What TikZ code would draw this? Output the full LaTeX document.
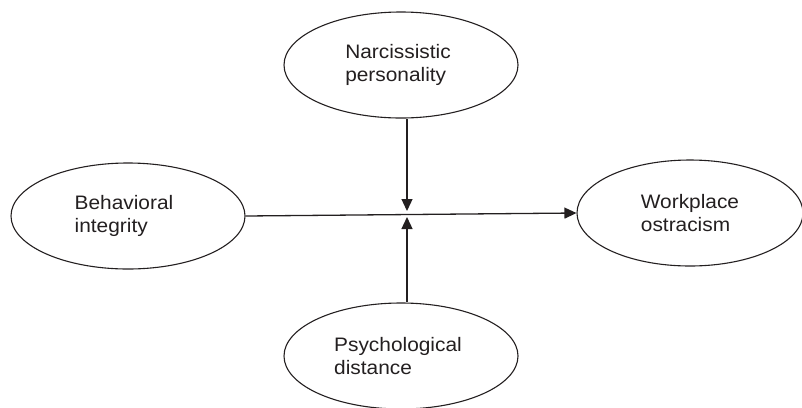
\documentclass[tikz,border=0pt]{standalone}
\usepackage{fontspec}
\setmainfont{Liberation Sans}[FakeStretch=1.07]
\usetikzlibrary{shapes.geometric,arrows.meta}
\definecolor{ink}{HTML}{231F20}
\tikzset{
  construct/.style={ellipse, draw=ink, line width=1.1bp, minimum width=234bp, minimum height=106bp,
    inner sep=0pt, align=left, text=ink, font=\fontsize{19.5bp}{23bp}\selectfont},
  path/.style={draw=ink, line width=1.3bp, -{Triangle[width=11bp,length=12bp]}}
}
\begin{document}
\begin{tikzpicture}[x=1bp,y=-1bp]
\useasboundingbox (0,0) rectangle (802,407);
\node[construct] (np) at (401,65) {Narcissistic\hspace*{6bp}\\personality};
\node[construct] (bi) at (128,216) {Behavioral\hspace*{8bp}\\integrity};
\node[construct, minimum width=226bp] (wo) at (690,213) {Workplace\\ostracism};
\node[construct] (pd) at (401,356) {Psychological\hspace*{6bp}\\distance};
\coordinate (mtop) at (407,211);
\coordinate (mbot) at (407,217);
\draw[path] (bi.east) -- (wo.west);
\draw[path] (np.south -| mtop) -- (mtop);
\draw[path] (pd.north -| mbot) -- (mbot);
\end{tikzpicture}
\end{document}
